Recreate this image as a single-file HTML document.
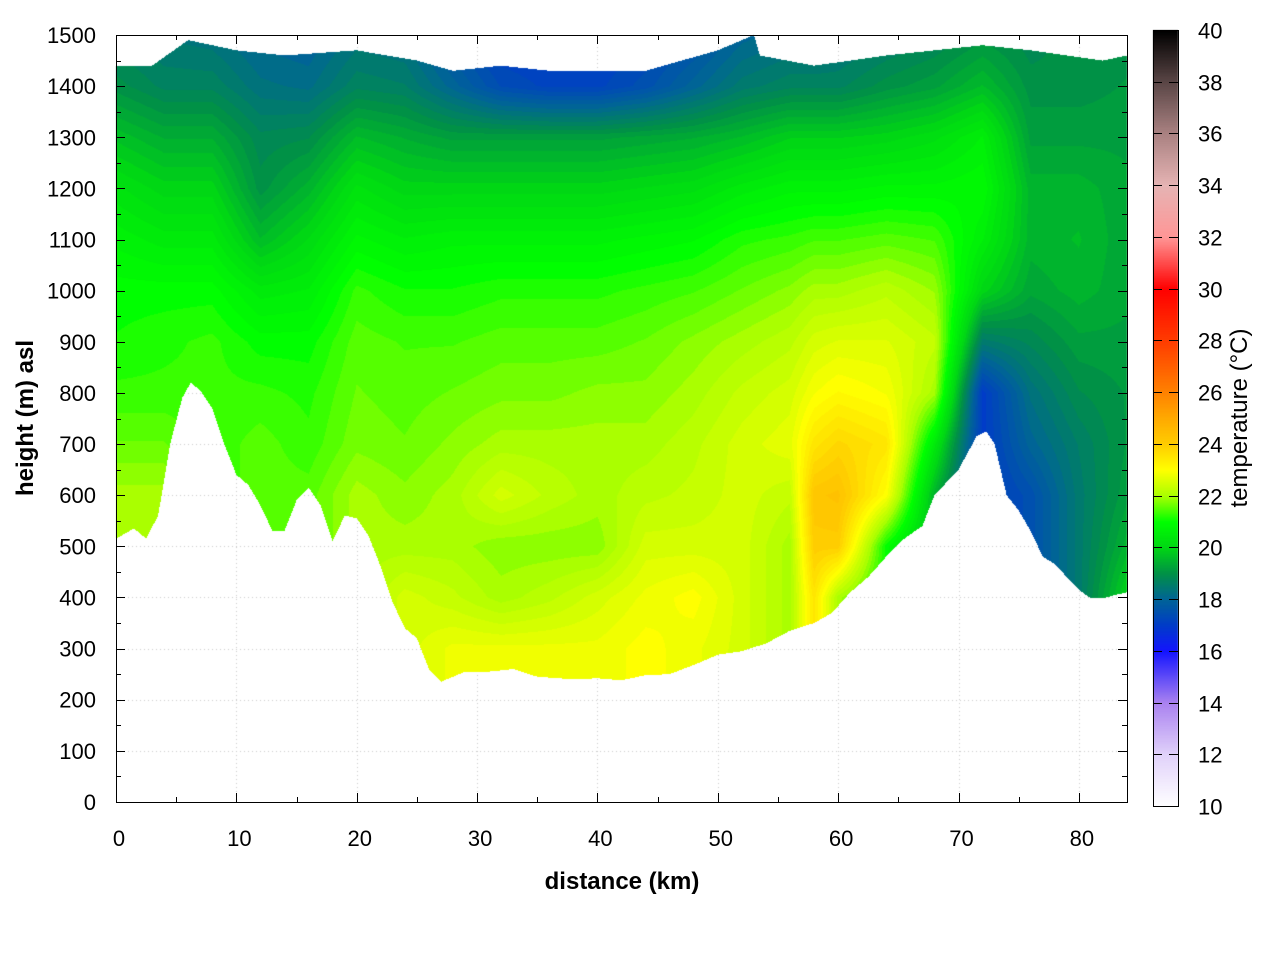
<!DOCTYPE html>
<html><head><meta charset="utf-8">
<style>
html,body{margin:0;padding:0;background:#fff;}
#wrap{position:relative;width:1280px;height:960px;overflow:hidden;font-family:"Liberation Sans",sans-serif;}
canvas,svg{position:absolute;left:0;top:0;}
</style></head>
<body>
<div id="wrap">
<canvas id="cv" width="1280" height="960"></canvas>
<svg id="sv" width="1280" height="960"></svg>
</div>
<script>
// ---- data ----
const colDist = [0,4,8,12,16,20,24,28,32,36,40,44,48,52,56,58,60,64,68,72,76,80,84];
const levels = [200,300,400,500,600,700,800,900,1000,1100,1200,1300,1400,1500];
const temps = [
 [22,22,22,22,22,21.6,21.3,21.1,21,20.7,20.3,19.7,19,18.6],
 [22,22,22,22,22,21.6,21.3,21.2,21,20.5,20,19.4,18.7,18.4],
 [21.3,21.3,21.3,21.3,21.3,21.3,21.3,21.3,21,20.5,20,19.4,18.7,18.3],
 [21.5,21.5,21.5,21.5,21.5,21.5,21.3,21,20.5,19.6,19,18.8,18.3,18],
 [21.5,21.5,21.5,21.5,21.5,21.3,21.2,21,20.6,20.1,19.5,18.9,18.2,17.9],
 [22,22,22,22,22,21.7,21.6,21.5,21.3,20.8,20.3,19.6,18.7,18.3],
 [22.5,22.5,22.5,22,21.8,21.6,21.5,21.4,21.1,20.6,20,19.4,18.6,18.2],
 [22.8,22.8,22.3,22,22,21.8,21.6,21.4,21.1,20.7,20,19.2,18,17.5],
 [22.8,22.8,22,21.8,22.5,22,21.7,21.5,21.2,20.7,20,19.2,17.4,17],
 [22.8,22.8,22.2,21.8,22.2,22,21.7,21.5,21.2,20.7,20,19.2,17.2,17],
 [22.8,22.8,22.5,21.8,22,22,21.8,21.5,21.2,20.7,20,19.2,17.2,17],
 [23,23,22.8,22.5,22.2,22,21.8,21.6,21.3,20.8,20.1,19.3,17.5,17.2],
 [22.8,22.8,23,22.5,22.3,22.2,22,21.8,21.4,20.9,20.2,19.4,18,17.5],
 [22.5,22.5,22.5,22.5,22.5,22.5,22.3,22,21.6,21.2,20.5,19.6,18.5,18],
 [22,22,22,22,22.3,22.7,22.5,22.2,21.8,21.3,20.7,19.9,18.7,18.2],
 [23.5,23.5,23.5,24,24.2,23.5,22.9,22.5,22,21.4,20.7,19.9,18.7,18.2],
 [22,22,22,24,24.3,23.8,23.1,22.6,22,21.4,20.7,19.9,18.7,18.3],
 [21,21,21,21,23,23.5,22.9,22.6,22.2,21.5,20.8,20,19,18.5],
 [19.5,19.5,19.5,19.5,19.5,20.5,22,22.3,21.9,21.4,20.8,20.2,19.2,18.7],
 [17,17,17,17,17,17,17,18.5,20,20.6,20.9,20.6,19.6,19],
 [17.5,17.5,17.5,17.5,17.5,18,18.3,18.8,19.3,19.5,19.5,19.2,19,18.8],
 [18.5,18.5,18.5,18.5,18.5,18.6,18.9,19.2,19.5,19.6,19.5,19.2,19,19],
 [20,20,20,19.5,19.2,19.1,19.1,19.2,19.3,19.3,19.3,19.2,19.1,19]
];
const groundKm = [0,1.5,2.5,3.5,4.5,5.5,6.2,7,8,9,10,11,12,13,14,15,16,17,18,19,20,21,22,23,24,25,26,27,28,29,31,33,35,38,40,42,44,46,48,50,52,54,56,58,59.5,61,62.5,64,65.5,67,68,70,71.5,72.3,73,74,75,76,77,78,79,80,81,82,83,84];
const groundM = [515,535,515,560,700,790,820,805,770,700,640,620,580,530,530,590,615,580,510,560,555,520,460,390,340,320,260,235,245,255,255,260,245,240,242,238,248,250,268,288,295,310,335,350,370,410,440,480,515,540,600,650,715,725,700,600,570,530,480,465,440,415,398,398,405,410];
const topKm = [0,3,6,10,14,20,25,28,32,36,44,50,53,53.5,58,64,72,76,82,84];
const topM = [1440,1440,1490,1470,1460,1470,1450,1430,1440,1430,1430,1470,1500,1460,1440,1460,1480,1470,1450,1460];
const xTicks = [0,10,20,30,40,50,60,70,80];
const yTicks = [0,100,200,300,400,500,600,700,800,900,1000,1100,1200,1300,1400,1500];
const cbTicks = [10,12,14,16,18,20,22,24,26,28,30,32,34,36,38,40];
const cmapT = [10,12,14,16,17,18,19,20,21,22,23,24,25,26,28,30,32,34,36,38,40];
const cmapC = [[255,255,255],[225,210,250],[170,130,240],[20,20,255],[0,60,200],[0,100,150],[0,145,70],[0,215,20],[0,255,0],[170,255,0],[255,255,0],[255,205,0],[255,170,0],[255,130,0],[255,60,0],[255,0,0],[255,150,150],[230,180,180],[170,130,130],[90,70,70],[0,0,0]];

// ---- axes ----
const X0=116,X1=1127,Y0=802,Y1=35,KMAX=84,HMAX=1500;
const sx=k=>X0+(k/KMAX)*(X1-X0);
const sy=h=>Y0-(h/HMAX)*(Y0-Y1);
function interp(xs,ys,x){if(x<=xs[0])return ys[0];for(let i=1;i<xs.length;i++){if(x<=xs[i]){const t=(x-xs[i-1])/(xs[i]-xs[i-1]);return ys[i-1]+t*(ys[i]-ys[i-1]);}}return ys[ys.length-1];}
function color(t){for(let i=1;i<cmapT.length;i++){if(t<=cmapT[i]){const f=Math.max(0,(t-cmapT[i-1])/(cmapT[i]-cmapT[i-1]));const a=cmapC[i-1],b=cmapC[i];return [a[0]+f*(b[0]-a[0]),a[1]+f*(b[1]-a[1]),a[2]+f*(b[2]-a[2])];}}return cmapC[cmapC.length-1];}
function tempAt(k,h){
  let ci=0;while(ci<colDist.length-2&&k>colDist[ci+1])ci++;
  const ft=Math.min(1,Math.max(0,(k-colDist[ci])/(colDist[ci+1]-colDist[ci])));
  const a=interp(levels,temps[ci],h),b=interp(levels,temps[ci+1],h);
  return a+ft*(b-a);
}
const cv=document.getElementById('cv');const ctx=cv.getContext('2d');
ctx.fillStyle='#fff';ctx.fillRect(0,0,1280,960);
ctx.strokeStyle='#ccc';ctx.setLineDash([1,3]);ctx.lineWidth=1;
xTicks.forEach(k=>{if(k>0){ctx.beginPath();ctx.moveTo(Math.round(sx(k))+0.5,Y1);ctx.lineTo(Math.round(sx(k))+0.5,Y0);ctx.stroke();}});
yTicks.forEach(h=>{if(h>0&&h<1500){ctx.beginPath();ctx.moveTo(X0,Math.round(sy(h))+0.5);ctx.lineTo(X1,Math.round(sy(h))+0.5);ctx.stroke();}});
ctx.setLineDash([]);
const img=ctx.getImageData(0,0,1280,960);const d=img.data;
for(let px=X0;px<X1;px++){
  const k=(px+0.5-X0)/(X1-X0)*KMAX;
  const g=interp(groundKm,groundM,k),tp=interp(topKm,topM,k);
  for(let py=Y1;py<Y0;py++){
    const h=(Y0-(py+0.5))/(Y0-Y1)*HMAX;
    if(h<g||h>tp)continue;
    let t=tempAt(k,h);
    t=Math.round(t*6)/6;
    const c=color(t);const o=(py*1280+px)*4;
    d[o]=c[0];d[o+1]=c[1];d[o+2]=c[2];d[o+3]=255;
  }
}
for(let py=30;py<806;py++){
  const t=10+(806-py)/(806-30)*30;const c=color(t);
  for(let px=1153;px<1178;px++){const o=(py*1280+px)*4;d[o]=c[0];d[o+1]=c[1];d[o+2]=c[2];d[o+3]=255;}
}
ctx.putImageData(img,0,0);

const NS='http://www.w3.org/2000/svg';const sv=document.getElementById('sv');
function el(tag,attrs,txt){const e=document.createElementNS(NS,tag);for(const a in attrs)e.setAttribute(a,attrs[a]);if(txt!==undefined)e.textContent=txt;sv.appendChild(e);return e;}
const frame=el('rect',{x:X0+0.5,y:Y1+0.5,width:X1-X0,height:Y0-Y1,fill:'none',stroke:'#000','stroke-width':1});


for(let k=0;k<=KMAX;k+=5){
  const x=Math.round(sx(k))+0.5,len=(k%10===0)?9:5;
  const t1=el('line',{x1:x,x2:x,y1:Y0,y2:Y0-len,stroke:'#000'});
  
  
  el('line',{x1:x,x2:x,y1:Y1,y2:Y1+len,stroke:'#000'});
}
xTicks.forEach(k=>{
  const t=el('text',{x:sx(k)+3,y:846,'font-size':22,'text-anchor':'middle'},String(k));
  
  
});
for(let h=0;h<=HMAX;h+=50){
  const y=Math.round(sy(h))+0.5,len=(h%100===0)?9:5;
  const t1=el('line',{x1:X0,x2:X0+len,y1:y,y2:y,stroke:'#000'});
  
  
  el('line',{x1:X1,x2:X1-len,y1:y,y2:y,stroke:'#000'});
}
yTicks.forEach(h=>{
  const t=el('text',{x:96,y:sy(h)+8,'font-size':22,'text-anchor':'end'},String(h));
  
  
});
const xt=el('text',{x:622,y:889,'font-size':24,'font-weight':'bold','text-anchor':'middle'},'distance (km)');


const yt=el('text',{x:0,y:0,'font-size':24,'font-weight':'bold','text-anchor':'middle',transform:'translate(33,418) rotate(-90)'},'height (m) asl');


const cb=el('rect',{x:1153.5,y:30.5,width:25,height:776,fill:'none',stroke:'#000'});


cbTicks.forEach(t=>{
  const y=Math.round(806-(t-10)/30*776)+0.5;
  el('line',{x1:1153,x2:1162,y1:y,y2:y,stroke:'#000'});
  el('line',{x1:1178,x2:1169,y1:y,y2:y,stroke:'#000'});
  const lb=el('text',{x:1198,y:y+8,'font-size':22},String(t));
  
  
});
const ct=el('text',{x:0,y:0,'font-size':24,'text-anchor':'middle',transform:'translate(1247,418) rotate(-90)'},'temperature (°C)');


</script>
</body></html>
